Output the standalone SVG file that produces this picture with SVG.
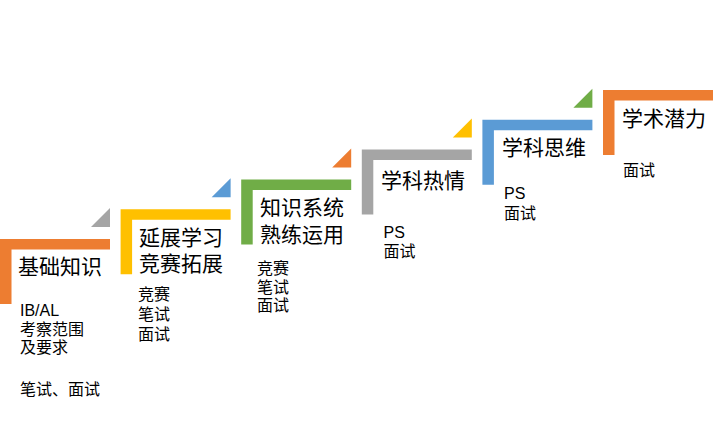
<svg xmlns="http://www.w3.org/2000/svg" width="720" height="426" viewBox="0 0 720 426">
<style>
text{font-family:"Liberation Sans","Noto Sans CJK SC",sans-serif;fill:#000}
.t{font-size:21px}
.s{font-size:16px}
.orange{fill:#ED7D31}.gray{fill:#A5A5A5}.yellow{fill:#FFC000}.green{fill:#70AD47}.blue{fill:#5B9BD5}
</style>
<defs>
<path id="step" d="M0 0H110V10.5H11.5V65H0Z"/>
<path id="tri" d="M91 -12H110V-31Z"/>
</defs>
<rect width="720" height="426" fill="#fff"/>
<g id="connectors">
<use href="#tri" x="0" y="239" class="gray"/>
<use href="#tri" x="120.6" y="209.2" class="blue"/>
<use href="#tri" x="241.2" y="179.4" class="orange"/>
<use href="#tri" x="361.8" y="149.6" class="yellow"/>
<use href="#tri" x="482.4" y="119.8" class="green"/>
</g>
<g id="step1">
<use href="#step" x="0" y="239" class="orange"/>
<text class="t" x="18" y="274">基础知识</text>
<text class="s" x="20" y="316">IB/AL</text>
<text class="s" x="20" y="335">考察范围</text>
<text class="s" x="20" y="353">及要求</text>
<text class="s" x="20" y="395">笔试、面试</text>
</g>
<g id="step2">
<use href="#step" x="120.6" y="209.2" class="yellow"/>
<text class="t" x="139" y="245">延展学习</text>
<text class="t" x="139" y="271">竞赛拓展</text>
<text class="s" x="138" y="300">竞赛</text>
<text class="s" x="138" y="320">笔试</text>
<text class="s" x="138" y="340">面试</text>
</g>
<g id="step3">
<use href="#step" x="241.2" y="179.4" class="green"/>
<text class="t" x="260" y="215">知识系统</text>
<text class="t" x="260" y="242">熟练运用</text>
<text class="s" x="257" y="273.5">竞赛</text>
<text class="s" x="257" y="292.5">笔试</text>
<text class="s" x="257" y="311">面试</text>
</g>
<g id="step4">
<use href="#step" x="361.8" y="149.6" class="gray"/>
<text class="t" x="381" y="187.5">学科热情</text>
<text class="s" x="383.5" y="238">PS</text>
<text class="s" x="383.5" y="256.5">面试</text>
</g>
<g id="step5">
<use href="#step" x="482.4" y="119.8" class="blue"/>
<text class="t" x="502" y="155">学科思维</text>
<text class="s" x="504" y="199">PS</text>
<text class="s" x="504" y="218.5">面试</text>
</g>
<g id="step6">
<use href="#step" x="603" y="90" class="orange"/>
<text class="t" x="622" y="126">学术潜力</text>
<text class="s" x="623" y="175.5">面试</text>
</g>
</svg>
